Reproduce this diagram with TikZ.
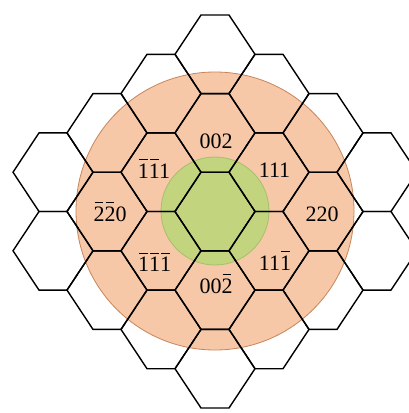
\documentclass[tikz,border=0pt]{standalone}
\usepackage{fontspec}
\setmainfont{Liberation Serif}
\usepackage{xcolor}

\definecolor{ringorange}{HTML}{F6C8A8}
\definecolor{ringedge}{HTML}{C8855A}
\definecolor{coregreen}{HTML}{C3D47E}
\definecolor{coreedge}{HTML}{A5BF6A}
\newcommand{\nb}[1]{\makebox[0pt][l]{\hspace{1.2pt}\rule[18pt]{8.6pt}{0.9pt}}#1}

\begin{document}
\begin{tikzpicture}[x=1pt,y=-1pt,
    hexline/.style={line width=1.4pt, line join=miter},
    idx/.style={font=\fontsize{22}{26}\selectfont, inner sep=0pt, anchor=base}]
    \useasboundingbox (0,0) rectangle (409,413);

    % Circles
    \filldraw[fill=ringorange, draw=ringedge, line width=0.8pt] (215,211) circle (139);
    \filldraw[fill=coregreen, draw=coreedge, line width=0.8pt] (215,211) circle (54);

    % Hexagons
    \foreach \i/\j in {0/-4,0/-2,0/0,0/2,0/4, 1/-3,1/-1,1/1,1/3, -1/-3,-1/-1,-1/1,-1/3,
                       2/-2,2/0,2/2, -2/-2,-2/0,-2/2, 3/-1,3/1, -3/-1,-3/1}
        \draw[hexline] ({215+54*\i},{211.5+39.3*\j}) ++(-40,0) -- ++(26,-39.3) -- ++(28,0)
            -- ++(26,39.3) -- ++(-26,39.3) -- ++(-28,0) -- cycle;

    % Labels
    \node[idx] (n002) at (216,148) {002};
    \node[idx] (n111) at (274.5,177) {111};
    \node[idx] (nbb1) at (154,178) {\nb{1}\nb{1}1};
    \node[idx] (n220) at (322,221) {220};
    \node[idx] (nbb0) at (110,221) {\nb{2}\nb{2}0};
    \node[idx] (nbbb) at (154.5,271.5) {\nb{1}\nb{1}\nb{1}};
    \node[idx] (n11b) at (275,270) {11\nb{1}};
    \node[idx] (n00b) at (216,293) {00\nb{2}};
\end{tikzpicture}
\end{document}
